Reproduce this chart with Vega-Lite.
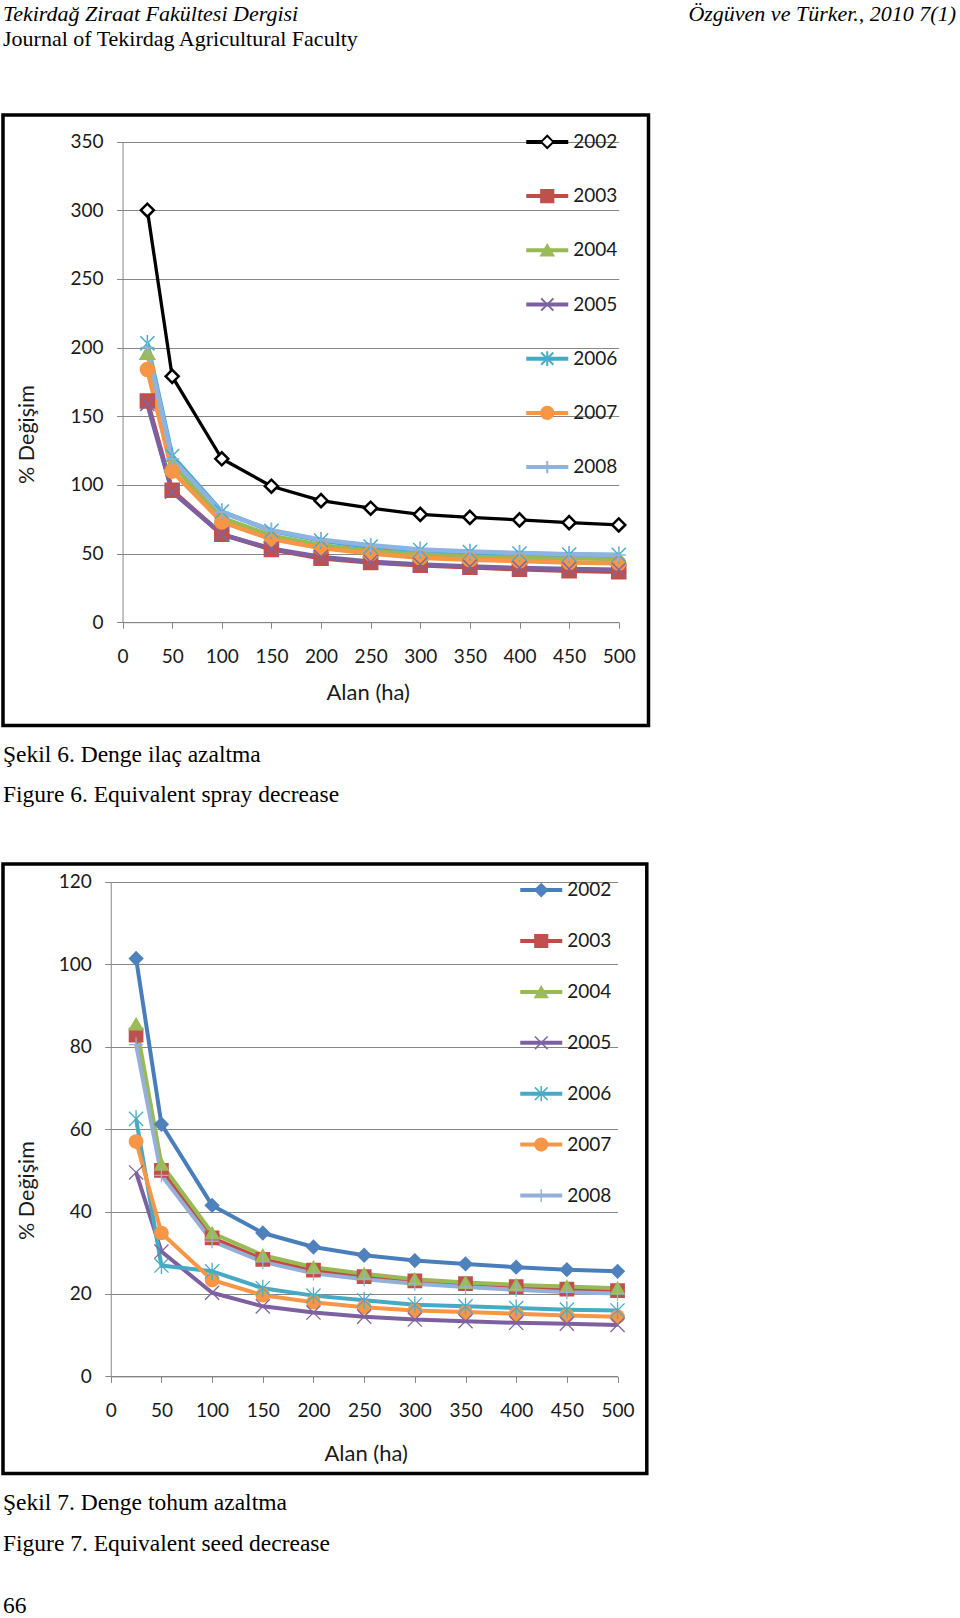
{
  "$schema": "https://vega.github.io/schema/vega-lite/v6.json",
  "background": "white",
  "padding": {"left": 1, "top": 3, "right": 0, "bottom": 0},
  "config": {"view": {"stroke": null}, "font": "Lato"},
  "spacing": 53,
  "resolve": {
    "scale": {"color": "independent", "fill": "independent", "stroke": "independent", "shape": "independent"},
    "legend": {"color": "independent", "fill": "independent", "stroke": "independent", "shape": "independent"}
  },
  "datasets": {
    "d1": [
      {"alan":25,"pct":300,"year":"2002"},{"alan":50,"pct":179,"year":"2002"},{"alan":100,"pct":119,"year":"2002"},{"alan":150,"pct":99,"year":"2002"},{"alan":200,"pct":88.5,"year":"2002"},{"alan":250,"pct":83,"year":"2002"},{"alan":300,"pct":78.5,"year":"2002"},{"alan":350,"pct":76.3,"year":"2002"},{"alan":400,"pct":74.5,"year":"2002"},{"alan":450,"pct":72.5,"year":"2002"},{"alan":500,"pct":70.8,"year":"2002"},
      {"alan":25,"pct":161,"year":"2003"},{"alan":50,"pct":96,"year":"2003"},{"alan":100,"pct":64,"year":"2003"},{"alan":150,"pct":53,"year":"2003"},{"alan":200,"pct":46.5,"year":"2003"},{"alan":250,"pct":43.5,"year":"2003"},{"alan":300,"pct":41.5,"year":"2003"},{"alan":350,"pct":40,"year":"2003"},{"alan":400,"pct":38.5,"year":"2003"},{"alan":450,"pct":37.5,"year":"2003"},{"alan":500,"pct":36.8,"year":"2003"},
      {"alan":25,"pct":196,"year":"2004"},{"alan":50,"pct":115,"year":"2004"},{"alan":100,"pct":76,"year":"2004"},{"alan":150,"pct":63,"year":"2004"},{"alan":200,"pct":56,"year":"2004"},{"alan":250,"pct":52,"year":"2004"},{"alan":300,"pct":49.5,"year":"2004"},{"alan":350,"pct":48,"year":"2004"},{"alan":400,"pct":47,"year":"2004"},{"alan":450,"pct":46.5,"year":"2004"},{"alan":500,"pct":46,"year":"2004"},
      {"alan":25,"pct":159,"year":"2005"},{"alan":50,"pct":95,"year":"2005"},{"alan":100,"pct":64,"year":"2005"},{"alan":150,"pct":53.5,"year":"2005"},{"alan":200,"pct":47.5,"year":"2005"},{"alan":250,"pct":44,"year":"2005"},{"alan":300,"pct":42,"year":"2005"},{"alan":350,"pct":40.5,"year":"2005"},{"alan":400,"pct":39.5,"year":"2005"},{"alan":450,"pct":38.8,"year":"2005"},{"alan":500,"pct":38.2,"year":"2005"},
      {"alan":25,"pct":203,"year":"2006"},{"alan":50,"pct":121,"year":"2006"},{"alan":100,"pct":80.5,"year":"2006"},{"alan":150,"pct":66.5,"year":"2006"},{"alan":200,"pct":59.5,"year":"2006"},{"alan":250,"pct":55,"year":"2006"},{"alan":300,"pct":52.5,"year":"2006"},{"alan":350,"pct":51,"year":"2006"},{"alan":400,"pct":50,"year":"2006"},{"alan":450,"pct":49.3,"year":"2006"},{"alan":500,"pct":49,"year":"2006"},
      {"alan":25,"pct":184,"year":"2007"},{"alan":50,"pct":110,"year":"2007"},{"alan":100,"pct":73,"year":"2007"},{"alan":150,"pct":60.5,"year":"2007"},{"alan":200,"pct":54,"year":"2007"},{"alan":250,"pct":50,"year":"2007"},{"alan":300,"pct":47,"year":"2007"},{"alan":350,"pct":45.5,"year":"2007"},{"alan":400,"pct":44.5,"year":"2007"},{"alan":450,"pct":43.5,"year":"2007"},{"alan":500,"pct":43,"year":"2007"},
      {"alan":25,"pct":200,"year":"2008"},{"alan":50,"pct":119,"year":"2008"},{"alan":100,"pct":80,"year":"2008"},{"alan":150,"pct":67,"year":"2008"},{"alan":200,"pct":60,"year":"2008"},{"alan":250,"pct":56,"year":"2008"},{"alan":300,"pct":53,"year":"2008"},{"alan":350,"pct":51.5,"year":"2008"},{"alan":400,"pct":50.3,"year":"2008"},{"alan":450,"pct":49.5,"year":"2008"},{"alan":500,"pct":49,"year":"2008"}
    ],
    "d2": [
      {"alan":25,"pct":101.4,"year":"2002"},{"alan":50,"pct":61.2,"year":"2002"},{"alan":100,"pct":41.5,"year":"2002"},{"alan":150,"pct":34.8,"year":"2002"},{"alan":200,"pct":31.4,"year":"2002"},{"alan":250,"pct":29.4,"year":"2002"},{"alan":300,"pct":28.1,"year":"2002"},{"alan":350,"pct":27.3,"year":"2002"},{"alan":400,"pct":26.5,"year":"2002"},{"alan":450,"pct":25.9,"year":"2002"},{"alan":500,"pct":25.5,"year":"2002"},
      {"alan":25,"pct":82.8,"year":"2003"},{"alan":50,"pct":50,"year":"2003"},{"alan":100,"pct":33.6,"year":"2003"},{"alan":150,"pct":28.4,"year":"2003"},{"alan":200,"pct":25.8,"year":"2003"},{"alan":250,"pct":24.2,"year":"2003"},{"alan":300,"pct":23.2,"year":"2003"},{"alan":350,"pct":22.5,"year":"2003"},{"alan":400,"pct":21.8,"year":"2003"},{"alan":450,"pct":21.2,"year":"2003"},{"alan":500,"pct":20.8,"year":"2003"},
      {"alan":25,"pct":85.5,"year":"2004"},{"alan":50,"pct":51.5,"year":"2004"},{"alan":100,"pct":34.8,"year":"2004"},{"alan":150,"pct":29.4,"year":"2004"},{"alan":200,"pct":26.5,"year":"2004"},{"alan":250,"pct":24.9,"year":"2004"},{"alan":300,"pct":23.6,"year":"2004"},{"alan":350,"pct":22.8,"year":"2004"},{"alan":400,"pct":22.2,"year":"2004"},{"alan":450,"pct":21.8,"year":"2004"},{"alan":500,"pct":21.4,"year":"2004"},
      {"alan":25,"pct":49.5,"year":"2005"},{"alan":50,"pct":30.3,"year":"2005"},{"alan":100,"pct":20.3,"year":"2005"},{"alan":150,"pct":17,"year":"2005"},{"alan":200,"pct":15.5,"year":"2005"},{"alan":250,"pct":14.5,"year":"2005"},{"alan":300,"pct":13.8,"year":"2005"},{"alan":350,"pct":13.4,"year":"2005"},{"alan":400,"pct":13,"year":"2005"},{"alan":450,"pct":12.8,"year":"2005"},{"alan":500,"pct":12.5,"year":"2005"},
      {"alan":25,"pct":62.5,"year":"2006"},{"alan":50,"pct":26.9,"year":"2006"},{"alan":100,"pct":25.5,"year":"2006"},{"alan":150,"pct":21.4,"year":"2006"},{"alan":200,"pct":19.6,"year":"2006"},{"alan":250,"pct":18.5,"year":"2006"},{"alan":300,"pct":17.4,"year":"2006"},{"alan":350,"pct":17,"year":"2006"},{"alan":400,"pct":16.6,"year":"2006"},{"alan":450,"pct":16.2,"year":"2006"},{"alan":500,"pct":16,"year":"2006"},
      {"alan":25,"pct":57,"year":"2007"},{"alan":50,"pct":34.8,"year":"2007"},{"alan":100,"pct":23.4,"year":"2007"},{"alan":150,"pct":19.7,"year":"2007"},{"alan":200,"pct":18,"year":"2007"},{"alan":250,"pct":16.8,"year":"2007"},{"alan":300,"pct":16,"year":"2007"},{"alan":350,"pct":15.6,"year":"2007"},{"alan":400,"pct":15.2,"year":"2007"},{"alan":450,"pct":14.8,"year":"2007"},{"alan":500,"pct":14.5,"year":"2007"},
      {"alan":25,"pct":80.5,"year":"2008"},{"alan":50,"pct":48.8,"year":"2008"},{"alan":100,"pct":32.8,"year":"2008"},{"alan":150,"pct":27.8,"year":"2008"},{"alan":200,"pct":25,"year":"2008"},{"alan":250,"pct":23.6,"year":"2008"},{"alan":300,"pct":22.5,"year":"2008"},{"alan":350,"pct":21.7,"year":"2008"},{"alan":400,"pct":21,"year":"2008"},{"alan":450,"pct":20.4,"year":"2008"},{"alan":500,"pct":20.1,"year":"2008"}
    ]
  },
  "vconcat": [
    {
      "spacing": 0,
      "hconcat": [
        {
          "width": 480, "height": 9,
          "data": {"values": []},
          "mark": "point",
          "title": {"text": "Tekirdağ Ziraat Fakültesi Dergisi", "subtitle": "Journal of Tekirdag Agricultural Faculty", "anchor": "start", "frame": "group", "offset": 0, "font": "Liberation Serif", "fontSize": 22, "fontStyle": "italic", "fontWeight": "normal", "color": "#000", "subtitleFont": "Liberation Serif", "subtitleFontSize": 22, "subtitleColor": "#000", "subtitlePadding": 3}
        },
        {
          "width": 473, "height": 9,
          "data": {"values": []},
          "mark": "point",
          "title": {"text": "Özgüven ve Türker., 2010 7(1)", "subtitle": " ", "anchor": "end", "frame": "group", "offset": 0, "font": "Liberation Serif", "fontSize": 22, "fontStyle": "italic", "fontWeight": "normal", "color": "#000", "subtitleFont": "Liberation Serif", "subtitleFontSize": 22, "subtitleColor": "#000", "subtitlePadding": 3}
        }
      ]
    },
    {
      "width": 645.5, "height": 610.5,
      "view": {"stroke": "#000", "strokeWidth": 3.5},
      "data": {"name": "d1"},
      "title": {"text": "Şekil 6. Denge ilaç azaltma", "subtitle": "Figure 6. Equivalent spray decrease", "orient": "bottom", "anchor": "start", "frame": "group", "offset": 17, "font": "Liberation Serif", "fontSize": 23.5, "fontWeight": "normal", "color": "#000", "subtitleFont": "Liberation Serif", "subtitleFontSize": 23.5, "subtitleColor": "#000", "subtitlePadding": 17},
      "encoding": {
        "x": {"field": "alan", "type": "quantitative", "title": "Alan (ha)",
          "scale": {"domain": [0, 500], "range": [119.55, 615.75], "nice": false, "zero": false},
          "axis": {"values": [0,50,100,150,200,250,300,350,400,450,500], "offset": -103.3, "grid": false, "domainColor": "#868686", "domainWidth": 1, "tickColor": "#868686", "tickWidth": 1, "tickSize": 6, "labelFont": "Lato", "labelFontSize": 19, "labelColor": "#1a1a1a", "labelPadding": 19.5, "labelFlush": false, "labelOverlap": false, "titleFont": "Lato", "titleFontSize": 22, "titleFontWeight": "normal", "titleColor": "#1a1a1a", "titleX": 364.75, "titleY": 70, "titleBaseline": "middle", "titleAlign": "center"}},
        "y": {"field": "pct", "type": "quantitative", "title": "% Değişim",
          "scale": {"domain": [0, 350], "range": [507.2, 26.5], "nice": false, "zero": false},
          "axis": {"values": [0,50,100,150,200,250,300,350], "offset": -119.55, "grid": true, "gridColor": "#868686", "gridWidth": 1, "domainColor": "#868686", "domainWidth": 1, "tickColor": "#868686", "tickWidth": 1, "tickSize": 6, "labelFont": "Lato", "labelFontSize": 19, "labelColor": "#1a1a1a", "labelPadding": 13.5, "labelFlush": false, "labelOverlap": false, "titleFont": "Lato", "titleFontSize": 21.5, "titleFontWeight": "normal", "titleColor": "#1a1a1a", "titleX": -95.3, "titleY": 319, "titleBaseline": "middle", "titleAlign": "center", "titleAngle": -90}}
      },
      "layer": [
        {
          "transform": [{"filter": {"field": "year", "equal": "2002"}}],
          "mark": {"type": "line", "strokeWidth": 3.3, "strokeJoin": "round"},
          "encoding": {"color": {"field": "year", "type": "nominal",
            "scale": {"domain": ["2002","2003","2004","2005","2006","2007","2008"], "range": ["#000000","#BE4B48","#98B954","#7D60A0","#46AAC5","#F79646","#8DB3E2"]},
            "legend": {"orient": "none", "legendX": 521.25, "legendY": 16.9, "title": null, "symbolType": "stroke", "symbolSize": 1764, "symbolStrokeWidth": 4, "clipHeight": 20, "rowPadding": 34.2, "padding": 0, "labelFont": "Lato", "labelFontSize": 19, "labelColor": "#1a1a1a", "labelOffset": 3}}}
        },
        {
          "transform": [{"filter": {"field": "year", "oneOf": ["2003","2004","2005","2006","2007","2008"]}}],
          "mark": {"type": "line", "strokeWidth": 4.5, "strokeJoin": "round"},
          "encoding": {"color": {"field": "year", "type": "nominal"}}
        },
        {
          "transform": [{"filter": {"field": "year", "oneOf": ["2002","2003","2004","2007"]}}],
          "mark": {"type": "point", "size": 170, "strokeWidth": 2.5, "opacity": 1, "filled": true},
          "encoding": {
            "shape": {"field": "year", "type": "nominal",
              "scale": {"range": ["diamond","square","triangle-up","M-1,-1L1,1M-1,1L1,-1","M-1,-1L1,1M-1,1L1,-1M0,-1.2L0,1.2","circle","M-1,0L1,0M0,-1L0,1"]},
              "legend": {"orient": "none", "legendX": 521.25, "legendY": 16.9, "title": null, "symbolSize": 150, "symbolStrokeWidth": 2, "clipHeight": 20, "rowPadding": 34.2, "padding": 0, "symbolOffset": 13.5, "labelFont": "Lato", "labelFontSize": 19, "labelExpr": "''"}},
            "fill": {"field": "year", "type": "nominal", "scale": {"range": ["#FFFFFF","#C0504D","#9BBB59","#8064A2","#4BACC6","#F79646","#8DB3E2"]}},
            "stroke": {"field": "year", "type": "nominal", "scale": {"range": ["#000000","#C0504D","#9BBB59","#8064A2","#4BACC6","#F79646","#8DB3E2"]}}
          }
        },
        {
          "transform": [{"filter": {"field": "year", "oneOf": ["2005","2006","2008"]}}],
          "mark": {"type": "point", "size": 200, "strokeWidth": 1.5, "opacity": 1},
          "encoding": {
            "shape": {"field": "year", "type": "nominal"},
            "fill": {"field": "year", "type": "nominal"},
            "stroke": {"field": "year", "type": "nominal"}
          }
        }
      ]
    },
    {
      "width": 643.8, "height": 609.6,
      "view": {"stroke": "#000", "strokeWidth": 3.5},
      "data": {"name": "d2"},
      "title": {"text": "Şekil 7. Denge tohum azaltma", "subtitle": ["Figure 7. Equivalent seed decrease", "66"], "orient": "bottom", "anchor": "start", "frame": "group", "offset": 17, "font": "Liberation Serif", "fontSize": 23.5, "fontWeight": "normal", "color": "#000", "subtitleFont": "Liberation Serif", "subtitleFontSize": 23.5, "subtitleColor": "#000", "subtitlePadding": 17.5, "subtitleLineHeight": 62.5},
      "encoding": {
        "x": {"field": "alan", "type": "quantitative", "title": "Alan (ha)",
          "scale": {"domain": [0, 500], "range": [107.75, 614.55], "nice": false, "zero": false},
          "axis": {"values": [0,50,100,150,200,250,300,350,400,450,500], "offset": -97.2, "grid": false, "domainColor": "#868686", "domainWidth": 1, "tickColor": "#868686", "tickWidth": 1, "tickSize": 6, "labelFont": "Lato", "labelFontSize": 19, "labelColor": "#1a1a1a", "labelPadding": 19.5, "labelFlush": false, "labelOverlap": false, "titleFont": "Lato", "titleFontSize": 22, "titleFontWeight": "normal", "titleColor": "#1a1a1a", "titleX": 362.7, "titleY": 76.6, "titleBaseline": "middle", "titleAlign": "center"}},
        "y": {"field": "pct", "type": "quantitative", "title": "% Değişim",
          "scale": {"domain": [0, 120], "range": [512.4, 17.9], "nice": false, "zero": false},
          "axis": {"values": [0,20,40,60,80,100,120], "offset": -107.75, "grid": true, "gridColor": "#868686", "gridWidth": 1, "domainColor": "#868686", "domainWidth": 1, "tickColor": "#868686", "tickWidth": 1, "tickSize": 6, "labelFont": "Lato", "labelFontSize": 19, "labelColor": "#1a1a1a", "labelPadding": 13.5, "labelFlush": false, "labelOverlap": false, "titleFont": "Lato", "titleFontSize": 21.5, "titleFontWeight": "normal", "titleColor": "#1a1a1a", "titleX": -83.5, "titleY": 326, "titleBaseline": "middle", "titleAlign": "center", "titleAngle": -90}}
      },
      "layer": [
        {
          "mark": {"type": "line", "strokeWidth": 4, "strokeJoin": "round"},
          "encoding": {"color": {"field": "year", "type": "nominal",
            "scale": {"domain": ["2002","2003","2004","2005","2006","2007","2008"], "range": ["#4A7EBB","#BE4B48","#98B954","#7D60A0","#46AAC5","#F79646","#94AFD8"]},
            "legend": {"orient": "none", "legendX": 515.25, "legendY": 16.1, "title": null, "symbolType": "stroke", "symbolSize": 1764, "symbolStrokeWidth": 4, "clipHeight": 20, "rowPadding": 30.9, "padding": 0, "labelFont": "Lato", "labelFontSize": 19, "labelColor": "#1a1a1a", "labelOffset": 3}}}
        },
        {
          "transform": [{"filter": {"field": "year", "oneOf": ["2002","2003","2004","2007"]}}],
          "mark": {"type": "point", "size": 175, "strokeWidth": 1.5, "opacity": 1, "filled": true},
          "encoding": {
            "shape": {"field": "year", "type": "nominal",
              "scale": {"range": ["diamond","square","triangle-up","M-1,-1L1,1M-1,1L1,-1","M-1,-1L1,1M-1,1L1,-1M0,-1.2L0,1.2","circle","M-1,0L1,0M0,-1L0,1"]},
              "legend": {"orient": "none", "legendX": 515.25, "legendY": 16.1, "title": null, "symbolSize": 160, "symbolStrokeWidth": 1.5, "clipHeight": 20, "rowPadding": 30.9, "padding": 0, "symbolOffset": 13.5, "labelFont": "Lato", "labelFontSize": 19, "labelExpr": "''"}},
            "fill": {"field": "year", "type": "nominal", "scale": {"range": ["#4F81BD","#C0504D","#9BBB59","#8064A2","#4BACC6","#F79646","#95B3D7"]}},
            "stroke": {"field": "year", "type": "nominal", "scale": {"range": ["#4F81BD","#C0504D","#9BBB59","#8064A2","#4BACC6","#F79646","#95B3D7"]}}
          }
        },
        {
          "transform": [{"filter": {"field": "year", "oneOf": ["2005","2006","2008"]}}],
          "mark": {"type": "point", "size": 200, "strokeWidth": 1.3, "opacity": 1},
          "encoding": {
            "shape": {"field": "year", "type": "nominal"},
            "fill": {"field": "year", "type": "nominal"},
            "stroke": {"field": "year", "type": "nominal"}
          }
        }
      ]
    }
  ]
}
